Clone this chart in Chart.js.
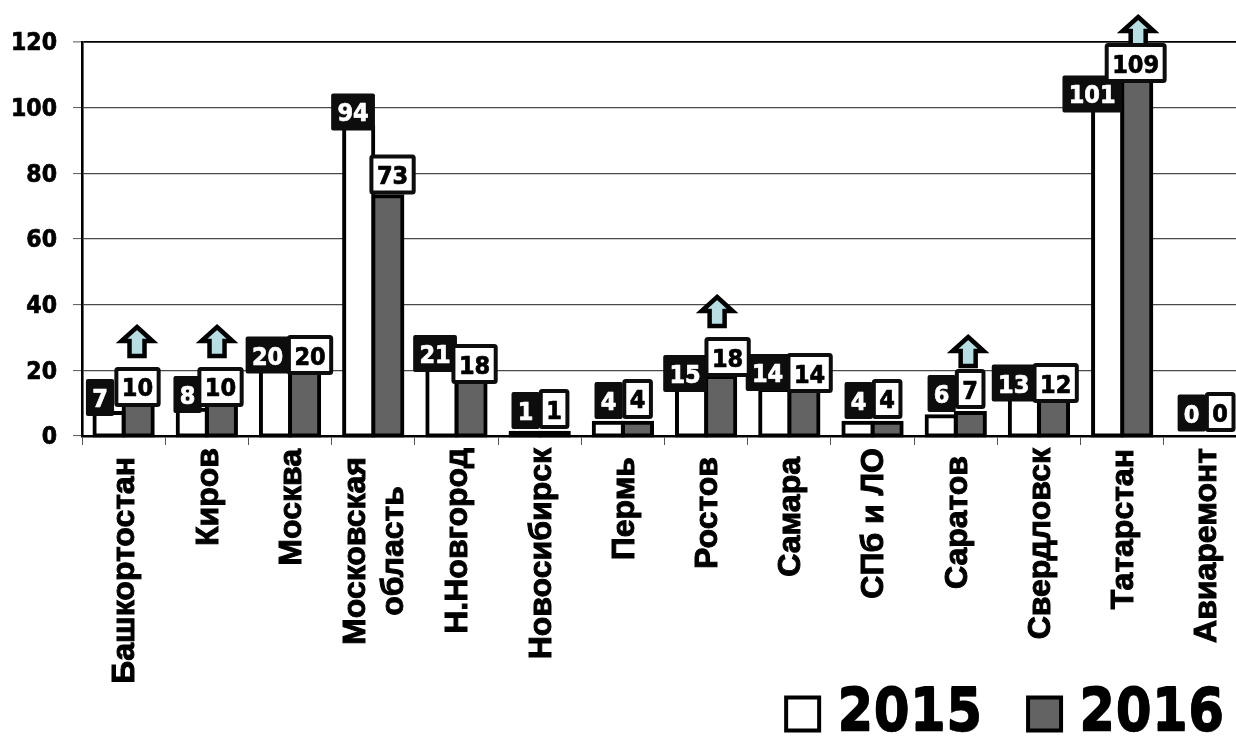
<!DOCTYPE html>
<html lang="ru">
<head>
<meta charset="utf-8">
<style>
html,body{margin:0;padding:0;background:#fff;width:1236px;height:736px;overflow:hidden}
#wrap{position:relative;width:1236px;height:736px;overflow:hidden}
canvas{position:absolute;left:0;top:0}
</style>
<script src="https://cdn.jsdelivr.net/npm/chart.js@4"></script>
</head>
<body>
<div id="wrap"><canvas id="c" width="1247" height="753"></canvas></div>
<script>
const categories = ['Башкортостан','Киров','Москва',['Московская','область'],'Н.Новгород','Новосибирск','Пермь','Ростов','Самара','СПб и ЛО','Саратов','Свердловск','Татарстан','Авиаремонт'];
const seriesNames = ['2015','2016'];
const values2015 = [7,8,20,94,21,1,4,15,14,4,6,13,101,0];
const values2016 = [10,10,20,73,18,1,4,18,14,4,7,12,109,0];
const yTicks = [0,20,40,60,80,100,120];
const growthCategories = ['Башкортостан','Киров','Ростов','Саратов','Татарстан'];

// Label placement, as pixel offsets from the category centre and the bar top
const shift2015X = [-23.6,-19.3,-22.5,-20.2,-21.4,-14.1,-14.3,-21,-21.7,-13.9,-14.1,-25.3,-30,-13.7];
const shift2015Y = [-15.5,-15.2,-15.3,-15.4,-13.6,-22.2,-22.4,-13.3,-17.5,-22.4,-22.8,-10.3,-10.4,-23];
const shift2016X = [13.9,13.7,20,19.3,18.1,14.4,14.7,21.5,20.3,14.6,14.4,16.7,13.5,14.8];
const shift2016Y = [-16.2,-16.2,-15.3,-21.8,-12.9,-23.7,-23.9,-19.9,-17,-23.9,-24,-13.6,-15.1,-24];
const arrowShiftX = {'Башкортостан':13.4,'Киров':10.2,'Ростов':11,'Саратов':12.4,'Татарстан':16};
const arrowGap = {'Башкортостан':44,'Киров':44,'Ростов':44,'Саратов':36,'Татарстан':30};
const categoryLabelDrop = [9,0,1,9,0,0,9,9,9,0,8,0,1,0];

const FONT = '"DejaVu Sans Condensed","DejaVu Sans"';
const LABEL_FONT = '"Liberation Sans"';
const INK = '#000000';
const DARK = '#0d0d0d';
const GREY = '#636363';
const ARROW = '#b7dfe3';

function barFill(base){
  return ctx => {
    const v = ctx.parsed ? ctx.parsed.y : undefined;
    if (v === 0) return 'rgba(0,0,0,0)';
    if (v === 1) return INK;
    return base;
  };
}

function roundRect(c,x,y,w,h,r){
  c.beginPath();
  c.roundRect(x,y,w,h,r);
}

const annotate = {
  id:'annotate',
  beforeDraw(chart){
    const xs = chart.scales.x, ys = chart.scales.y, c = chart.ctx;
    if (chart.legend) chart.legend.right = 1281;
    xs.bottom = chart.height;
    c.save();
    c.font = 'bold 32px '+LABEL_FONT;
    xs.getLabelItems(chart.chartArea).forEach((item,i)=>{
      item.options.translation = [item.options.translation[0]+2, item.options.translation[1]+categoryLabelDrop[i]];
      if (Array.isArray(item.label)) {
        const longest = Math.max(...item.label.map(t=>c.measureText(t).width));
        item.options.textAlign = 'center';
        item.options.translation[1] += longest/2;
        item.textOffset -= item.font.lineHeight/2;
      }
    });
    ys.getLabelItems(chart.chartArea).forEach(item=>{
      item.options.translation = [item.options.translation[0], item.options.translation[1]+2];
    });
    c.restore();
  },
  afterDatasetsDraw(chart){
    const c = chart.ctx, xs = chart.scales.x, ys = chart.scales.y;
    c.save();
    c.textAlign='center';
    c.textBaseline='middle';
    c.font = 'bold 25px '+FONT;
    c.lineJoin='round';
    const names = categories.map(n=>Array.isArray(n)?n.join(' '):n);
    // arrows
    names.forEach((name,i)=>{
      if(!growthCategories.includes(name)) return;
      const cx = xs.getPixelForTick(i)+arrowShiftX[name];
      const boxTop = ys.getPixelForValue(values2016[i])+shift2016Y[i]-20;
      const t = boxTop-arrowGap[name];
      c.beginPath();
      c.moveTo(cx,t+4);
      c.lineTo(cx+15.5,t+18);
      c.lineTo(cx+7.5,t+18);
      c.lineTo(cx+7.5,t+33);
      c.lineTo(cx-7.5,t+33);
      c.lineTo(cx-7.5,t+18);
      c.lineTo(cx-15.5,t+18);
      c.closePath();
      c.fillStyle=ARROW;
      c.fill();
      c.lineWidth=4.5;
      c.lineJoin='miter';
      c.strokeStyle=INK;
      c.stroke();
    });
    c.lineJoin='round';
    // dark labels (2015)
    values2015.forEach((v,i)=>{
      const cx = xs.getPixelForTick(i)+shift2015X[i];
      const cy = ys.getPixelForValue(v)+shift2015Y[i];
      const tw = c.measureText(String(v)).width;
      const w = tw+12.5, h=37;
      roundRect(c,cx-w/2,cy-h/2,w,h,2);
      c.fillStyle=DARK; c.fill();
      c.fillStyle='#ffffff';
      c.strokeStyle='#ffffff';
      c.lineWidth=0.7;
      c.strokeText(String(v),cx,cy+3);
      c.fillText(String(v),cx,cy+3);
    });
    // white labels (2016)
    values2016.forEach((v,i)=>{
      const cx = xs.getPixelForTick(i)+shift2016X[i];
      const cy = ys.getPixelForValue(v)+shift2016Y[i];
      const tw = c.measureText(String(v)).width;
      const w = tw+15, h=40, b=4;
      roundRect(c,cx-w/2+b/2,cy-h/2+b/2,w-b,h-b,1.5);
      c.fillStyle='#ffffff'; c.fill();
      c.lineWidth=b; c.strokeStyle=DARK; c.stroke();
      c.fillStyle=INK;
      c.strokeStyle=INK;
      c.lineWidth=0.7;
      c.strokeText(String(v),cx,cy+3);
      c.fillText(String(v),cx,cy+3);
    });
    c.restore();
  },
  afterDraw(chart){
    // slightly lower legend digits, on top of the legend's own text
    const lg = chart.legend, c = chart.ctx, o = lg.options.labels;
    const size = o.font.size, half = size/2;
    c.save();
    c.font = 'bold '+size+'px '+FONT;
    c.textBaseline='middle';
    c.textAlign='left';
    c.fillStyle=INK;
    c.strokeStyle=INK;
    c.lineWidth=0.5;
    c.lineJoin='round';
    let x = lg.right - lg.lineWidths[0];
    const y = lg.top + o.padding + Math.max(size,o.boxHeight)/2 + 2;
    lg.legendItems.forEach(it=>{
      const tx = x + o.boxWidth + half;
      c.strokeText(it.text,tx,y);
      c.fillText(it.text,tx,y);
      x = tx + c.measureText(it.text).width + o.padding;
    });
    c.restore();
  }
};

const barStyle = {
  borderColor:INK,
  borderWidth:4,
  borderSkipped:false,
  inflateAmount:2,
  clip:false,
  categoryPercentage:0.7,
  barPercentage:1
};

new Chart(document.getElementById('c'),{
  type:'bar',
  data:{
    labels:categories,
    datasets:[
      Object.assign({label:seriesNames[0],data:values2015,backgroundColor:barFill('#ffffff')},barStyle),
      Object.assign({label:seriesNames[1],data:values2016,backgroundColor:barFill(GREY)},barStyle)
    ]
  },
  options:{
    responsive:false,
    animation:false,
    events:[],
    layout:{padding:{top:42,left:0,right:0,bottom:0}},
    plugins:{
      title:{display:false},
      tooltip:{enabled:false},
      legend:{
        display:true,
        position:'bottom',
        align:'end',
        labels:{
          color:INK,
          usePointStyle:true,
          pointStyle:'rect',
          boxWidth:11,
          boxHeight:33,
          padding:56.7,
          font:{family:FONT,size:58,weight:'bold'}
        }
      }
    },
    scales:{
      x:{
        afterFit(s){ s.height=192.3; },
        grid:{drawOnChartArea:false,drawTicks:true,tickLength:9,tickColor:'#555555',tickWidth:1,offset:true},
        border:{color:INK,width:2.6},
        ticks:{
          autoSkip:false,maxRotation:90,minRotation:90,padding:3,color:INK,
          textStrokeColor:INK,textStrokeWidth:1,
          font:{family:LABEL_FONT,size:32,weight:'bold',lineHeight:1.17}
        }
      },
      y:{
        afterFit(s){ s.width=82; },
        min:0,max:120,
        afterBuildTicks(s){ s.ticks = yTicks.map(v=>({value:v})); },
        grid:{
          tickLength:9,
          tickColor:'#555555',
          tickWidth:1,
          color:ctx=> ctx.tick && (ctx.tick.value===120 || ctx.tick.value===0) ? '#000000' : '#4a4a4a',
          lineWidth:ctx=> ctx.tick && ctx.tick.value===120 ? 1.8 : 1.2
        },
        border:{color:INK,width:2.6},
        ticks:{padding:16,color:INK,textStrokeColor:INK,textStrokeWidth:0.7,font:{family:FONT,size:24.5,weight:'bold'}}
      }
    }
  },
  plugins:[annotate]
});
</script>
</body>
</html>
